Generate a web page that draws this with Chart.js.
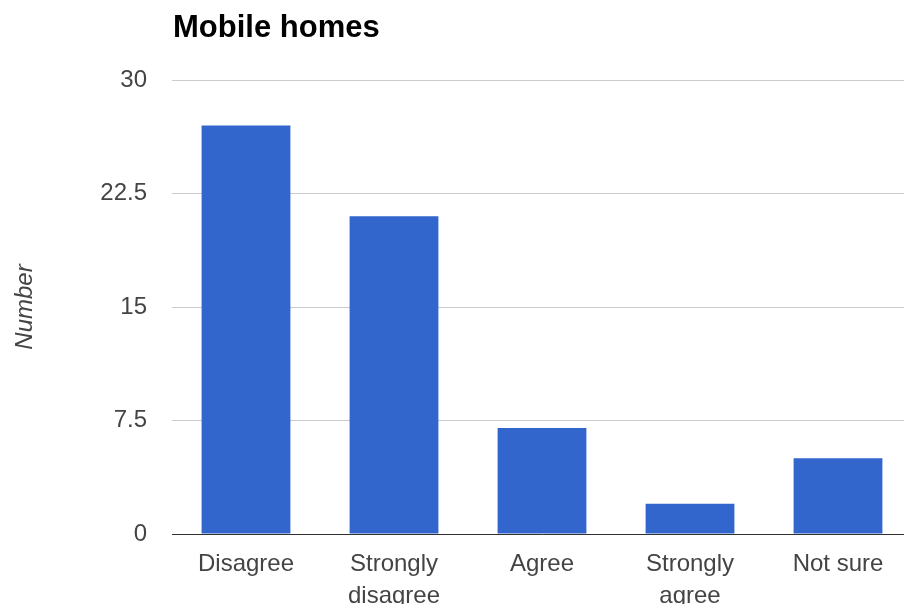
<!DOCTYPE html>
<html>
<head>
<meta charset="utf-8">
<script src="https://cdn.jsdelivr.net/npm/chart.js@4/dist/chart.umd.min.js"></script>
<style>
html,body{margin:0;padding:0;background:#fff;overflow:hidden;width:904px;height:604px;}
#wrap{position:absolute;left:0;top:0;width:912px;height:604px;}
</style>
</head>
<body>
<div id="wrap"><canvas id="c" width="912" height="604"></canvas></div>
<script>
const chartTitle = "Mobile homes";
const yAxisTitle = "Number";
const categories = ["Disagree", ["Strongly", "disagree"], "Agree", ["Strongly", "agree"], "Not sure"];
const values = [27, 21, 7, 2, 5];
const yTicks = [0, 7.5, 15, 22.5, 30];

const FONT = '"Liberation Sans", Arial, sans-serif';

const titlePlugin = {
  id: 'leftTitle',
  afterDraw(chart) {
    const ctx = chart.ctx;
    ctx.save();
    ctx.font = 'bold 31px ' + FONT;
    ctx.fillStyle = '#000';
    ctx.textBaseline = 'alphabetic';
    ctx.textAlign = 'left';
    ctx.fillText(chartTitle, chart.chartArea.left + 1, 37);
    ctx.restore();
  }
};

new Chart(document.getElementById('c'), {
  type: 'bar',
  data: {
    labels: categories,
    datasets: [{
      data: values,
      backgroundColor: '#3366cc',
      borderWidth: 0,
      categoryPercentage: 1.0,
      barPercentage: 0.6
    }]
  },
  options: {
    responsive: false,
    animation: false,
    devicePixelRatio: 1,
    layout: { padding: { top: 80, left: 0, right: 0, bottom: 0 } },
    plugins: {
      legend: { display: false },
      title: { display: false },
      tooltip: { enabled: false }
    },
    scales: {
      x: {
        grid: { display: false },
        border: { display: true, color: '#333', width: 1 },
        ticks: {
          color: '#444',
          font: { family: FONT, size: 24, lineHeight: 1.33 },
          padding: 6,
          maxRotation: 0,
          autoSkip: false
        },
        afterFit(scale) { scale.height = 70; }
      },
      y: {
        min: 0,
        max: 30,
        afterBuildTicks(scale) { scale.ticks = yTicks.map(v => ({ value: v })); },
        grid: { color: '#cccccc', lineWidth: 1, drawTicks: false },
        border: { display: false },
        ticks: {
          color: '#444',
          font: { family: FONT, size: 24 },
          padding: 25
        },
        title: {
          display: true,
          text: yAxisTitle,
          color: '#444',
          font: { family: FONT, size: 24, style: 'italic', lineHeight: 1.2 },
          padding: { top: 11, bottom: 0 }
        },
        afterFit(scale) { scale.width = 172; }
      }
    }
  },
  plugins: [titlePlugin]
});
</script>
</body>
</html>
